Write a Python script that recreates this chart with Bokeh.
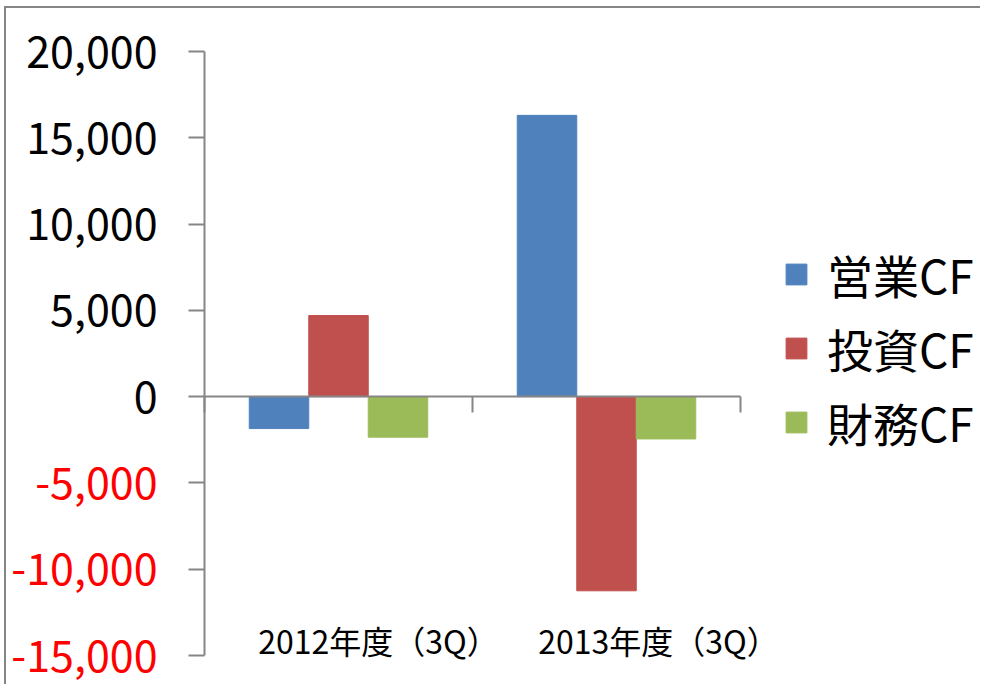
from bokeh.plotting import figure
from bokeh.models import (Range1d, FixedTicker, ColumnDataSource, Legend, LegendItem,
                          LinearAxis, NumeralTickFormatter, CustomJSTickFormatter)
from bokeh.embed import file_html
from bokeh.resources import INLINE

# ---- data ----
categories = ["2012年度（3Q）", "2013年度（3Q）"]
series_names = ["営業CF", "投資CF", "財務CF"]
operating_cf = [-1850, 16300]
investing_cf = [4700, -11250]
financing_cf = [-2350, -2450]
y_ticks = [-15000, -10000, -5000, 0, 5000, 10000, 15000, 20000]

# ---- style / layout ----
colors = ["#4F81BD", "#C0504D", "#9BBB59"]
FONT = "Noto Sans CJK JP"
AXIS_COLOR = "#868686"
BAR_W = 0.222
OFFSETS = [-BAR_W, 0.0, BAR_W]
W, H = 976, 678            # canvas size
AXIS_PX_X = 198            # canvas x of the value axis
PX_PER_CAT = 268           # width of one category
TOP_PX, BOTTOM_PX = 43, 647  # canvas y of the top / bottom value ticks
CAT_LABEL_TOP_PX = 608     # canvas y of the top of category labels
CAT_LABEL_SHIFT_PX = [40, 52]
LEGEND_X, LEGEND_BOTTOM_PX = 777, 451

ymin, ymax = y_ticks[0], y_ticks[-1]
units_per_px = (ymax - ymin) / (BOTTOM_PX - TOP_PX)
x_range = Range1d(-AXIS_PX_X / PX_PER_CAT, (W - AXIS_PX_X) / PX_PER_CAT)
y_range = Range1d(ymin - (H - BOTTOM_PX) * units_per_px, ymax + TOP_PX * units_per_px)


def px_to_y(py):
    return ymax - (py - TOP_PX) * units_per_px


p = figure(width=W, height=H, output_backend="svg", toolbar_location=None,
           x_range=x_range, y_range=y_range, min_border=0)
p.title.visible = False
p.xgrid.visible = False
p.ygrid.visible = False
p.outline_line_color = None
p.styles = {"position": "absolute", "left": "4px", "top": "6px",
            "border-top": f"2px solid {AXIS_COLOR}", "border-left": f"2px solid {AXIS_COLOR}"}

centers = [i + 0.5 for i in range(len(categories))]
renderers = []
for vals, col, off in zip([operating_cf, investing_cf, financing_cf], colors, OFFSETS):
    src = ColumnDataSource(dict(x=[c + off for c in centers], top=vals))
    r = p.vbar(x="x", top="top", bottom=0, width=BAR_W, source=src,
               fill_color=col, line_color=col, line_width=1)
    renderers.append(r)


def style_axis(ax, color="black", size="43px"):
    ax.axis_line_color = AXIS_COLOR
    ax.axis_line_width = 2
    ax.major_tick_line_color = AXIS_COLOR
    ax.major_tick_line_width = 2
    ax.major_tick_out = 16
    ax.major_tick_in = 0
    ax.minor_tick_line_color = None
    ax.major_label_text_font = FONT
    ax.major_label_text_font_size = size
    ax.major_label_text_color = color


# value axis: non-negative ticks in black
yax = p.yaxis[0]
style_axis(yax)
yax.fixed_location = 0
yax.bounds = (ymin, ymax)
yax.ticker = FixedTicker(ticks=[t for t in y_ticks if t >= 0])
yax.formatter = NumeralTickFormatter(format="0,0")
yax.major_label_standoff = 31

# value axis: negative ticks in red (same line)
yneg = LinearAxis(ticker=FixedTicker(ticks=[t for t in y_ticks if t < 0]),
                  formatter=NumeralTickFormatter(format="0,0"), fixed_location=0,
                  bounds=(ymin, ymax))
style_axis(yneg, color="#FF0000")
yneg.axis_line_color = None
yneg.major_label_standoff = 31
p.add_layout(yneg, "left")

# category axis at zero, ticks at category boundaries
xax = p.xaxis[0]
style_axis(xax)
xax.fixed_location = 0
xax.bounds = (0, len(categories))
xax.ticker = FixedTicker(ticks=list(range(len(categories) + 1)))
xax.major_label_text_color = None
xax.major_label_standoff = 0

# category labels near the bottom
xcat = LinearAxis(ticker=FixedTicker(ticks=[c + s / PX_PER_CAT for c, s in zip(centers, CAT_LABEL_SHIFT_PX)]),
                  formatter=CustomJSTickFormatter(args=dict(cats=categories),
                                                  code="return cats[Math.floor(tick)];"),
                  fixed_location=px_to_y(CAT_LABEL_TOP_PX))
style_axis(xcat, size="32px")
xcat.axis_line_color = None
xcat.major_tick_line_color = None
xcat.major_tick_out = 0
xcat.major_label_standoff = 0
p.add_layout(xcat, "below")

legend = Legend(items=[LegendItem(label=n, renderers=[r]) for n, r in zip(series_names, renderers)],
                location=(LEGEND_X, H - LEGEND_BOTTOM_PX), orientation="vertical",
                glyph_width=26, glyph_height=26, label_standoff=18,
                label_height=74, spacing=0, padding=0, margin=0,
                border_line_color=None, background_fill_alpha=0,
                label_text_font=FONT, label_text_font_size="46px",
                label_text_color="black")
p.add_layout(legend, "center")

open("out.html", "w").write(file_html(p, INLINE))
